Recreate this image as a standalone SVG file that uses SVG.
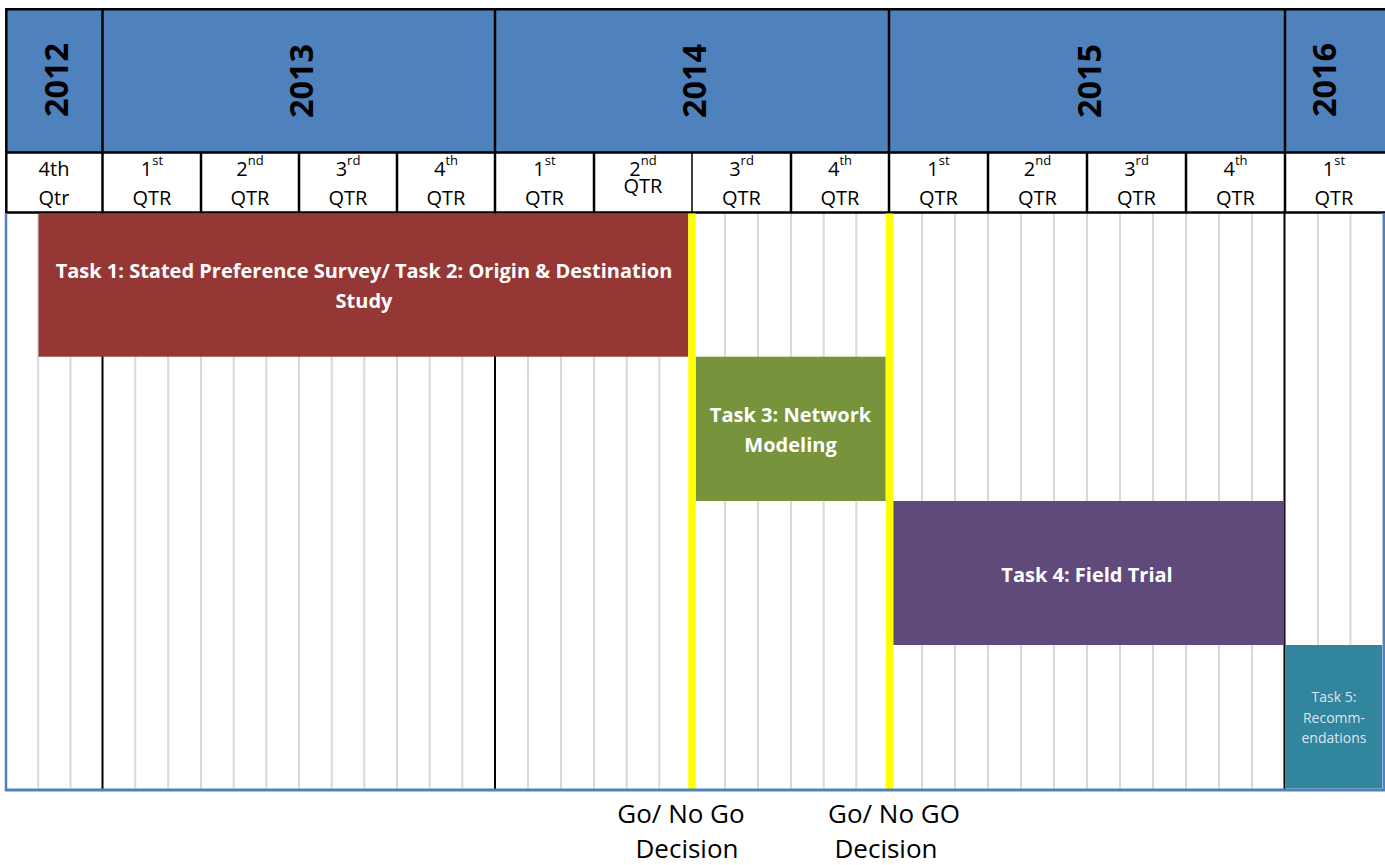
<svg xmlns="http://www.w3.org/2000/svg" width="1385" height="865" viewBox="0 0 1385 865">
<style>
text{font-family:"Open Sans","Liberation Sans",sans-serif;}
.yr{font-size:33px;font-weight:bold;fill:#000;text-anchor:middle;}
.q{font-size:20px;fill:#000;text-anchor:middle;}
.sup{font-size:13px;}
.g{stroke:#d9d9d9;stroke-width:2;}
.k{stroke:#000;stroke-width:2;}
.hb{stroke:#000;stroke-width:2.5;fill:none;}
.task{font-size:20px;font-weight:bold;fill:#fff;text-anchor:middle;}
.t5{font-size:14px;fill:#dce6f2;text-anchor:middle;}
.lbl{font-size:26px;fill:#000;text-anchor:middle;}
.yl{fill:#ffff00;}
</style>
<rect x="0" y="0" width="1385" height="865" fill="#fff"/>

<g id="grid">
<line class="g" x1="38.2" y1="213" x2="38.2" y2="789"/>
<line class="g" x1="70.5" y1="213" x2="70.5" y2="789"/>
<line class="g" x1="135.3" y1="213" x2="135.3" y2="789"/>
<line class="g" x1="168.2" y1="213" x2="168.2" y2="789"/>
<line class="g" x1="201" y1="213" x2="201" y2="789"/>
<line class="g" x1="233.7" y1="213" x2="233.7" y2="789"/>
<line class="g" x1="266.3" y1="213" x2="266.3" y2="789"/>
<line class="g" x1="299" y1="213" x2="299" y2="789"/>
<line class="g" x1="331.7" y1="213" x2="331.7" y2="789"/>
<line class="g" x1="364.3" y1="213" x2="364.3" y2="789"/>
<line class="g" x1="397" y1="213" x2="397" y2="789"/>
<line class="g" x1="429.7" y1="213" x2="429.7" y2="789"/>
<line class="g" x1="462.3" y1="213" x2="462.3" y2="789"/>
<line class="g" x1="528" y1="213" x2="528" y2="789"/>
<line class="g" x1="561" y1="213" x2="561" y2="789"/>
<line class="g" x1="594" y1="213" x2="594" y2="789"/>
<line class="g" x1="626.7" y1="213" x2="626.7" y2="789"/>
<line class="g" x1="659.3" y1="213" x2="659.3" y2="789"/>
<line class="g" x1="725" y1="213" x2="725" y2="789"/>
<line class="g" x1="758" y1="213" x2="758" y2="789"/>
<line class="g" x1="791" y1="213" x2="791" y2="789"/>
<line class="g" x1="823.7" y1="213" x2="823.7" y2="789"/>
<line class="g" x1="856.3" y1="213" x2="856.3" y2="789"/>
<line class="g" x1="922" y1="213" x2="922" y2="789"/>
<line class="g" x1="955" y1="213" x2="955" y2="789"/>
<line class="g" x1="988" y1="213" x2="988" y2="789"/>
<line class="g" x1="1021" y1="213" x2="1021" y2="789"/>
<line class="g" x1="1054" y1="213" x2="1054" y2="789"/>
<line class="g" x1="1087" y1="213" x2="1087" y2="789"/>
<line class="g" x1="1120" y1="213" x2="1120" y2="789"/>
<line class="g" x1="1153" y1="213" x2="1153" y2="789"/>
<line class="g" x1="1186" y1="213" x2="1186" y2="789"/>
<line class="g" x1="1219" y1="213" x2="1219" y2="789"/>
<line class="g" x1="1252" y1="213" x2="1252" y2="789"/>
<line class="g" x1="1318" y1="213" x2="1318" y2="789"/>
<line class="g" x1="1350.5" y1="213" x2="1350.5" y2="789"/>
<line class="k" x1="102.5" y1="213" x2="102.5" y2="789"/>
<line class="k" x1="495" y1="213" x2="495" y2="789"/>
<line class="k" x1="1284.5" y1="213" x2="1284.5" y2="789"/>
</g>

<g id="header">
<rect x="6" y="9" width="1390" height="143.5" fill="#4f81bd"/>
<rect x="6" y="152.5" width="1390" height="60" fill="#fff"/>
<g class="hb">
<line x1="5" y1="9.2" x2="1385" y2="9.2"/>
<line x1="5" y1="152.5" x2="1385" y2="152.5"/>
<line x1="5" y1="212.5" x2="1385" y2="212.5"/>
<line x1="6.3" y1="8" x2="6.3" y2="213.5"/>
<line x1="102.5" y1="9" x2="102.5" y2="213"/>
<line x1="495" y1="9" x2="495" y2="213"/>
<line x1="889" y1="9" x2="889" y2="213"/>
<line x1="1285" y1="9" x2="1285" y2="213"/>
<line x1="201" y1="152.5" x2="201" y2="213"/>
<line x1="299" y1="152.5" x2="299" y2="213"/>
<line x1="397" y1="152.5" x2="397" y2="213"/>
<line x1="594" y1="152.5" x2="594" y2="213"/>
<line x1="692" y1="152.5" x2="692" y2="213" stroke-width="1.5"/>
<line x1="791" y1="152.5" x2="791" y2="213"/>
<line x1="988" y1="152.5" x2="988" y2="213"/>
<line x1="1087" y1="152.5" x2="1087" y2="213"/>
<line x1="1186" y1="152.5" x2="1186" y2="213"/>
</g>
</g>

<g id="year-2012"><text class="yr" transform="translate(67.5,80) rotate(-90)" textLength="74" lengthAdjust="spacingAndGlyphs">2012</text></g>
<g id="year-2013"><text class="yr" transform="translate(313,81) rotate(-90)" textLength="74" lengthAdjust="spacingAndGlyphs">2013</text></g>
<g id="year-2014"><text class="yr" transform="translate(705.5,81) rotate(-90)" textLength="74" lengthAdjust="spacingAndGlyphs">2014</text></g>
<g id="year-2015"><text class="yr" transform="translate(1100.5,81) rotate(-90)" textLength="74" lengthAdjust="spacingAndGlyphs">2015</text></g>
<g id="year-2016"><text class="yr" transform="translate(1336,80) rotate(-90)" textLength="74" lengthAdjust="spacingAndGlyphs">2016</text></g>

<g id="quarters">
<text class="q" x="54" y="176">4th</text><text class="q" x="54" y="205">Qtr</text>
<text class="q" x="152" y="176">1<tspan class="sup" dy="-11.5">st</tspan></text><text class="q" x="152" y="205">QTR</text>
<text class="q" x="250" y="176">2<tspan class="sup" dy="-11.5">nd</tspan></text><text class="q" x="250" y="205">QTR</text>
<text class="q" x="348" y="176">3<tspan class="sup" dy="-11.5">rd</tspan></text><text class="q" x="348" y="205">QTR</text>
<text class="q" x="446" y="176">4<tspan class="sup" dy="-11.5">th</tspan></text><text class="q" x="446" y="205">QTR</text>
<text class="q" x="544.5" y="176">1<tspan class="sup" dy="-11.5">st</tspan></text><text class="q" x="544.5" y="205">QTR</text>
<text class="q" x="643" y="176">2<tspan class="sup" dy="-11.5">nd</tspan></text><text class="q" x="643" y="193" font-size="13">QTR</text>
<text class="q" x="741.5" y="176">3<tspan class="sup" dy="-11.5">rd</tspan></text><text class="q" x="741.5" y="205">QTR</text>
<text class="q" x="840" y="176">4<tspan class="sup" dy="-11.5">th</tspan></text><text class="q" x="840" y="205">QTR</text>
<text class="q" x="938.5" y="176">1<tspan class="sup" dy="-11.5">st</tspan></text><text class="q" x="938.5" y="205">QTR</text>
<text class="q" x="1037.5" y="176">2<tspan class="sup" dy="-11.5">nd</tspan></text><text class="q" x="1037.5" y="205">QTR</text>
<text class="q" x="1136.5" y="176">3<tspan class="sup" dy="-11.5">rd</tspan></text><text class="q" x="1136.5" y="205">QTR</text>
<text class="q" x="1235.5" y="176">4<tspan class="sup" dy="-11.5">th</tspan></text><text class="q" x="1235.5" y="205">QTR</text>
<text class="q" x="1334" y="176">1<tspan class="sup" dy="-11.5">st</tspan></text><text class="q" x="1334" y="205">QTR</text>
</g>

<g id="task1">
<rect x="38.5" y="213.5" width="649.8" height="143.2" fill="#953735"/>
<text class="task" x="364" y="278">Task 1: Stated Preference Survey/ Task 2: Origin &amp; Destination</text>
<text class="task" x="364" y="308">Study</text>
</g>
<g id="task3">
<rect x="695.7" y="356.7" width="190" height="144.3" fill="#77933c"/>
<text class="task" x="790.5" y="422">Task 3: Network</text>
<text class="task" x="790.5" y="452">Modeling</text>
</g>
<g id="task4">
<rect x="893.3" y="501" width="391" height="144" fill="#604a7b"/>
<text class="task" x="1087" y="582">Task 4: Field Trial</text>
</g>
<g id="task5">
<rect x="1285.5" y="645" width="96.7" height="143.5" fill="#31859c"/>
<text class="t5" x="1334" y="702">Task 5:</text>
<text class="t5" x="1334" y="723">Recomm-</text>
<text class="t5" x="1334" y="743">endations</text>
</g>

<g id="milestone-1">
<rect class="yl" x="688.3" y="213.5" width="7.5" height="576"/>
<text class="lbl" x="681" y="823">Go/ No Go</text>
<text class="lbl" x="687" y="858">Decision</text>
</g>
<g id="milestone-2">
<rect class="yl" x="885.7" y="213.5" width="7.5" height="576"/>
<text class="lbl" x="894" y="823">Go/ No GO</text>
<text class="lbl" x="886" y="858">Decision</text>
</g>

<g id="frame" stroke="#4f81bd" fill="none">
<line x1="6" y1="213" x2="6" y2="791" stroke-width="2.5"/>
<line x1="1383.8" y1="213" x2="1383.8" y2="791" stroke-width="2.5"/>
<line x1="5" y1="790" x2="1385" y2="790" stroke-width="3"/>
</g>

<g id="connectors"></g>
</svg>
